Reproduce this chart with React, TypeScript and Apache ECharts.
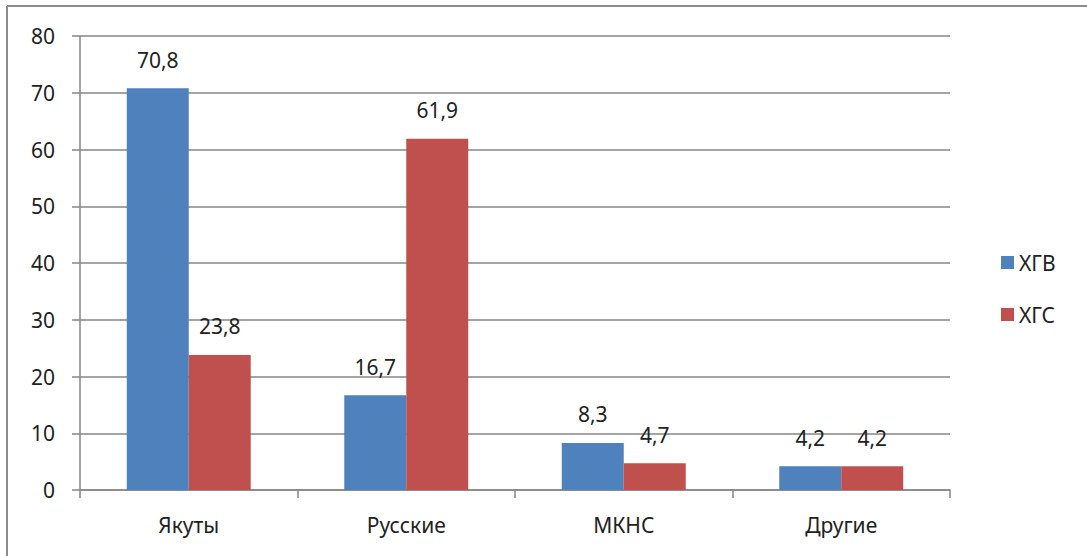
import React, { useEffect, useRef } from "react";
import * as echarts from "echarts";

const categories = ["Якуты", "Русские", "МКНС", "Другие"];
const hgvValues = [70.8, 16.7, 8.3, 4.2];
const hgsValues = [23.8, 61.9, 4.7, 4.2];
const seriesNames = ["ХГВ", "ХГС"];

const FONT = "'Noto Sans', 'DejaVu Sans', sans-serif";
const TEXT = "#222222";
const GRID_LINE = "#868686";
const FS = 21;

export default function App() {
  const ref = useRef<HTMLDivElement>(null);

  useEffect(() => {
    if (!ref.current) return;
    const chart = echarts.init(ref.current, null, { renderer: "svg" });
    const fmt = (p: any) => String(p.value).replace(".", ",");
    const barLabel = {
      show: true,
      position: "top",
      distance: 18,
      fontSize: FS,
      color: TEXT,
      fontFamily: FONT,
      formatter: fmt,
    };
    chart.setOption({
      animation: false,
      backgroundColor: "#ffffff",
      textStyle: { fontFamily: FONT },
      grid: { left: 80, top: 36, width: 870, bottom: 66 },
      legend: {
        orient: "vertical",
        left: 996,
        top: 247,
        itemWidth: 13,
        itemHeight: 13,
        itemGap: 31,
        icon: "rect",
        textStyle: { fontSize: FS, color: TEXT, fontFamily: FONT },
        data: seriesNames,
      },
      xAxis: {
        type: "category",
        data: categories,
        axisLine: { show: true, lineStyle: { color: GRID_LINE, width: 1.5 } },
        axisTick: { show: true, length: 8, lineStyle: { color: GRID_LINE, width: 1.5 } },
        axisLabel: { fontSize: FS, color: TEXT, margin: 24, fontFamily: FONT },
      },
      yAxis: {
        type: "value",
        min: 0,
        max: 80,
        interval: 10,
        axisLine: { show: true, lineStyle: { color: GRID_LINE, width: 1.5 } },
        axisTick: { show: true, length: 8, lineStyle: { color: GRID_LINE, width: 1.5 } },
        axisLabel: { fontSize: FS, color: TEXT, margin: 25, fontFamily: FONT },
        splitLine: { show: true, lineStyle: { color: GRID_LINE, width: 1.5 } },
      },
      series: [
        {
          name: seriesNames[0],
          type: "bar",
          data: hgvValues,
          barGap: "0%",
          barCategoryGap: "43%",
          itemStyle: { color: "#4F81BD" },
          label: barLabel,
        },
        {
          name: seriesNames[1],
          type: "bar",
          data: hgsValues,
          barGap: "0%",
          barCategoryGap: "43%",
          itemStyle: { color: "#C0504D" },
          label: barLabel,
        },
      ],
      graphic: [
        {
          type: "line",
          shape: { x1: 7, y1: 6, x2: 1087, y2: 6 },
          style: { stroke: "#8c8c8c", lineWidth: 2 },
        },
        {
          type: "line",
          shape: { x1: 7, y1: 6, x2: 7, y2: 556 },
          style: { stroke: "#8c8c8c", lineWidth: 2 },
        },
      ],
    });
    return () => chart.dispose();
  }, []);

  return (
    <div
      ref={ref}
      style={{ position: "fixed", left: 0, top: 0, width: 1087, height: 556 }}
    />
  );
}
